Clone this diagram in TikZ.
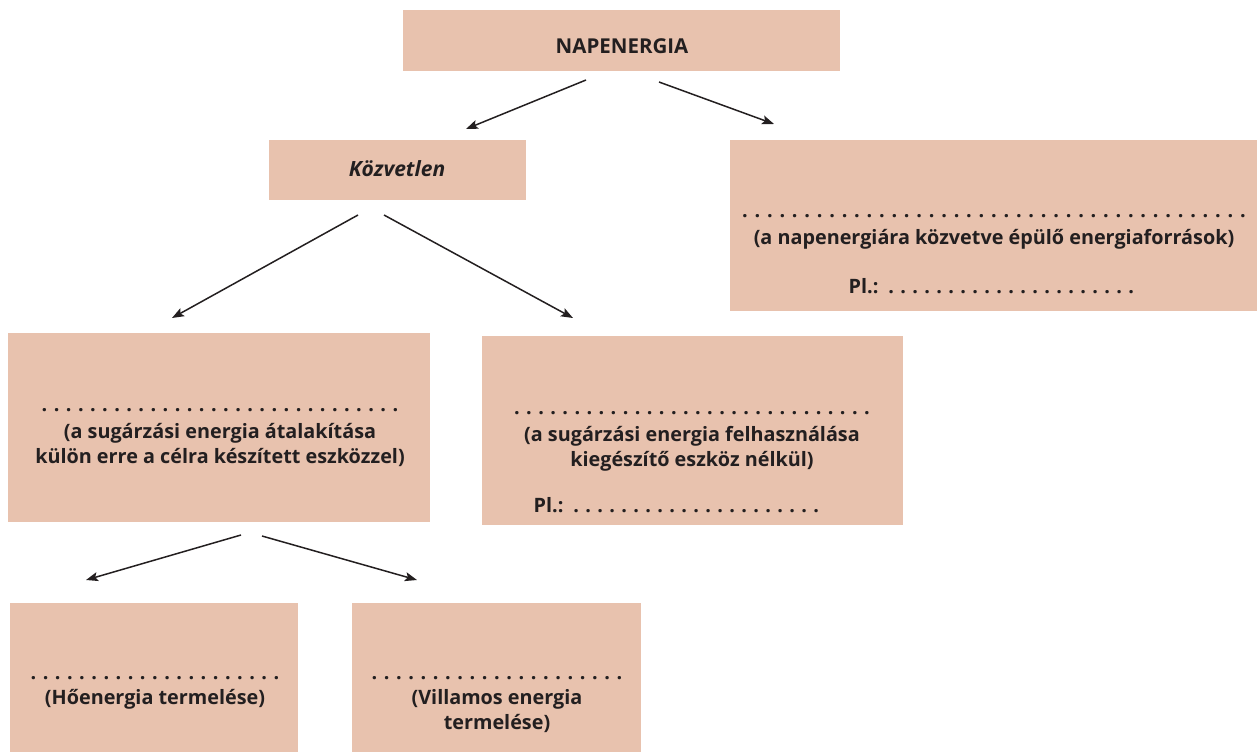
\documentclass[tikz,border=0pt]{standalone}
\usepackage{fontspec}
\setmainfont{Open Sans}
\usetikzlibrary{arrows.meta}
\definecolor{boxfill}{HTML}{E8C2AE}
\definecolor{ink}{HTML}{231F20}
\newdimen\dotsp
\newcommand\dotrow[2]{\dotsp=#2pt\relax\hbox to #1\dotsp{\xleaders\hbox to \dotsp{\hss.\hss}\hfill}}
\tikzset{
  box/.style={fill=boxfill, draw=none, inner sep=0pt, anchor=north west},
  txt/.style={text=ink, inner sep=0pt, anchor=base, font=\bfseries\fontsize{19.8}{25}\selectfont},
  arr/.style={draw=ink, line width=1.5pt, -{Stealth[length=12pt,width=9pt,inset=2.5pt]}}
}
\begin{document}
\begin{tikzpicture}[x=1pt,y=-1pt]
\useasboundingbox (0,0) rectangle (1257,752);
% boxes
\node[box, minimum width=437pt, minimum height=61pt] (nap) at (403,10) {};
\node[box, minimum width=257pt, minimum height=60pt] (kozv) at (269,140) {};
\node[box, minimum width=527pt, minimum height=171pt] (kozvet) at (730,140) {};
\node[box, minimum width=422pt, minimum height=189pt] (atal) at (8,333) {};
\node[box, minimum width=421pt, minimum height=189pt] (felh) at (482,336) {};
\node[box, minimum width=288pt, minimum height=149pt] (ho) at (10,603) {};
\node[box, minimum width=289pt, minimum height=149pt] (vill) at (352,603) {};
% texts
\node[txt, font=\bfseries\fontsize{20.5}{25}\selectfont] (t-nap) at (622,53) {NAPENERGIA};
\node[txt, font=\bfseries\itshape\fontsize{21}{25}\selectfont] (t-kozv) at (397,176) {Közvetlen};
\node[txt] (t-r1) at (994,217) {\dotrow{41}{12.45}};
\node[txt] (t-r2) at (994,244) {(a napenergiára közvetve épülő energiaforrások)};
\node[txt] (t-r3) at (993,293) {Pl.: \dotrow{21}{12}};
\node[txt] (t-a1) at (220,411) {\dotrow{30}{12.1}};
\node[txt] (t-a2) at (220,438) {(a sugárzási energia átalakítása};
\node[txt] (t-a3) at (220,463) {külön erre a célra készített eszközzel)};
\node[txt] (t-f1) at (692,414) {\dotrow{30}{12.07}};
\node[txt] (t-f2) at (692,441) {(a sugárzási energia felhasználása};
\node[txt] (t-f3) at (692,466) {kiegészítő eszköz nélkül)};
\node[txt] (t-f4) at (678,512) {Pl.: \dotrow{21}{12}};
\node[txt] (t-h1) at (155,679) {\dotrow{21}{12.15}};
\node[txt] (t-h2) at (155,704) {(Hőenergia termelése)};
\node[txt] (t-v1) at (497,679) {\dotrow{21}{12.25}};
\node[txt] (t-v2) at (497,704) {(Villamos energia};
\node[txt] (t-v3) at (497,729) {termelése)};
% arrow end points
\coordinate (s1) at (586,80);  \coordinate (e1) at (466,129);
\coordinate (s2) at (659,82);  \coordinate (e2) at (774,124);
\coordinate (s3) at (358,215); \coordinate (e3) at (172,318);
\coordinate (s4) at (384,215); \coordinate (e4) at (573,318);
\coordinate (s5) at (241,535); \coordinate (e5) at (86,580);
\coordinate (s6) at (262,536); \coordinate (e6) at (417,580);
\draw[arr] (s1) -- (e1);
\draw[arr] (s2) -- (e2);
\draw[arr] (s3) -- (e3);
\draw[arr] (s4) -- (e4);
\draw[arr] (s5) -- (e5);
\draw[arr] (s6) -- (e6);
\end{tikzpicture}
\end{document}
